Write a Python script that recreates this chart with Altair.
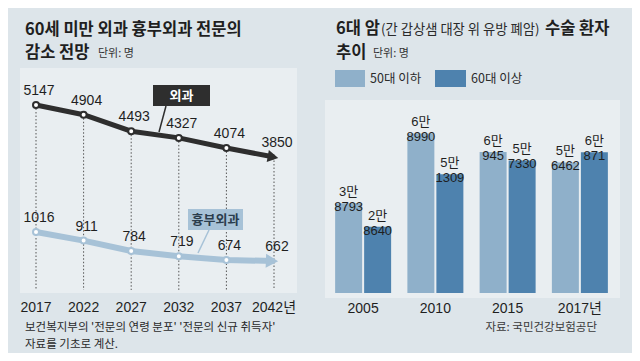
import altair as alt
import pandas as pd

# ---------------- data ----------------
years_l = [2017, 2022, 2027, 2032, 2037, 2042]
surgery = [5147, 4904, 4493, 4327, 4074, 3850]
thoracic = [1016, 911, 784, 719, 674, 662]
year_ticks_l = ["2017", "2022", "2027", "2032", "2037", "2042년"]

years_r = ["2005", "2010", "2015", "2017년"]
under50 = [38793, 68990, 60945, 56462]
over60 = [28640, 51309, 57330, 60871]
groups = ["50대 이하", "60대 이상"]

# ---------------- style ----------------
W, H = 312, 345
BG = "#dde5ea"
PANEL = "#e9eef1"
DARK = "#2e2e2e"
LIGHT = "#a7c2d7"
C1 = "#8fb0ca"
C2 = "#4e82ae"
KR = "Noto Sans CJK KR, sans-serif"
NUM = "Liberation Sans Narrow, Liberation Sans, Noto Sans CJK KR, sans-serif"
TXT = "#1f1f1f"

one = pd.DataFrame({"a": [1]})


def txt(s, x, y, size, weight="normal", color=TXT, align="left", baseline="alphabetic", font=KR):
    return alt.Chart(one).mark_text(
        text=s, fontSize=size, fontWeight=weight, color=color, align=align,
        baseline=baseline, font=font
    ).encode(x=alt.value(x), y=alt.value(y))


def rect(x, x2, y, y2, color):
    return alt.Chart(one).mark_rect(color=color).encode(
        x=alt.value(x), x2=alt.value(x2), y=alt.value(y), y2=alt.value(y2))


def seg(x, y, x2, y2, color, w):
    return alt.Chart(one).mark_rule(color=color, strokeWidth=w).encode(
        x=alt.value(x), y=alt.value(y), x2=alt.value(x2), y2=alt.value(y2))


# ---------------- left panel ----------------
dfl = pd.DataFrame({"year": years_l, "surg": surgery, "thor": thoracic, "tick": year_ticks_l})
base = alt.Chart(dfl)
xl = alt.X("year:Q", scale=alt.Scale(domain=[2017, 2042], range=[28, 266]), axis=None)
ys = alt.Y("surg:Q", scale=alt.Scale(domain=[3850, 5147], range=[149, 97], zero=False, nice=False), axis=None)
yt = alt.Y("thor:Q", scale=alt.Scale(domain=[662, 1016], range=[253, 224], zero=False, nice=False), axis=None)

left_layers = [
    rect(12, 289, 60, 285, PANEL),
    base.mark_rule(color="#555", strokeWidth=1, strokeDash=[1.5, 2]).encode(x=xl, y=ys, y2=alt.value(282)),
    # thoracic
    base.mark_line(color=LIGHT, strokeWidth=6).encode(x=xl, y=yt),
    base.transform_filter("datum.year == 2042").mark_point(
        shape="triangle-right", filled=True, color=LIGHT, opacity=1, size=200, angle=2, xOffset=-2
    ).encode(x=xl, y=yt),
    base.transform_filter("datum.year < 2042").mark_circle(
        size=36, fill="white", stroke=LIGHT, strokeWidth=2, opacity=1
    ).encode(x=xl, y=yt),
    base.mark_text(baseline="bottom", dy=-7, dx=3, fontSize=14, font=NUM, color=TXT).encode(x=xl, y=yt, text="thor:Q"),
    # surgery
    base.mark_line(color=DARK, strokeWidth=5).encode(x=xl, y=ys),
    base.transform_filter("datum.year == 2042").mark_point(
        shape="triangle-right", filled=True, color=DARK, opacity=1, size=150, angle=10, xOffset=-1
    ).encode(x=xl, y=ys),
    base.transform_filter("datum.year < 2042").mark_circle(
        size=36, fill="white", stroke=DARK, strokeWidth=2, opacity=1
    ).encode(x=xl, y=ys),
    base.mark_text(baseline="bottom", dy=-7, dx=3, fontSize=14, font=NUM, color=TXT).encode(x=xl, y=ys, text="surg:Q"),
    # year ticks
    base.mark_text(baseline="middle", fontSize=14, font=NUM, color=TXT).encode(x=xl, y=alt.value(300), text="tick:N"),
    # callouts
    seg(158, 98, 151, 124, DARK, 1.5),
    rect(145, 202, 77, 98, DARK),
    txt("외과", 173.5, 88, 13, "bold", "white", "center", "middle"),
    seg(201, 222, 190, 245, LIGHT, 1.5),
    rect(180, 235, 201, 222, LIGHT),
    txt("흉부외과", 207.5, 212, 13, "bold", "#2b3d4d", "center", "middle"),
    # titles & notes
    txt("60세 미만 외과  흉부외과 전문의", 17, 27, 16.5, "bold"),
    txt("감소 전망", 17, 50, 16.5, "bold"),
    txt("단위: 명", 90, 49, 11, "normal", "#333"),
    txt("보건복지부의 '전문의 연령 분포' '전문의 신규 취득자'", 17, 320, 11.5, "normal", "#2a2a2a", "left", "middle"),
    txt("자료를 기초로 계산.", 17, 337, 11.5, "normal", "#2a2a2a", "left", "middle"),
]
left = alt.layer(*left_layers).resolve_scale(y="independent").properties(width=W, height=H)

# ---------------- right panel ----------------
rows = []
for yr, a, b in zip(years_r, under50, over60):
    rows.append({"year": yr, "group": groups[0], "value": a})
    rows.append({"year": yr, "group": groups[1], "value": b})
dfr = pd.DataFrame(rows)
dfr["label"] = dfr["value"].apply(lambda v: f"{v // 10000}만\n{v % 10000}")
dft = pd.DataFrame({"year": years_r})

xr = alt.X("year:N", sort=years_r,
           scale=alt.Scale(domain=years_r, range=[7, 296], paddingInner=0.225, paddingOuter=0.1125), axis=None)
xo = alt.XOffset("group:N", sort=groups, scale=alt.Scale(domain=groups, paddingInner=0.07, paddingOuter=0))
yr_ = alt.Y("value:Q", scale=alt.Scale(domain=[0, 80000], range=[285, 100], nice=False, zero=True), axis=None)
col = alt.Color("group:N", scale=alt.Scale(domain=groups, range=[C1, C2]), legend=None)

rb = alt.Chart(dfr)
right_layers = [
    rect(5, 300, 92, 290, PANEL),
    rb.mark_bar().encode(x=xr, xOffset=xo, y=yr_, color=col),
    rb.mark_text(baseline="bottom", dy=-4, lineBreak="\n", lineHeight=15, fontSize=13, font=NUM, color=TXT).encode(
        x=xr, xOffset=xo, y=yr_, text="label:N"),
    alt.Chart(dft).mark_text(baseline="middle", fontSize=14, font=NUM, color=TXT).encode(
        x=xr, y=alt.value(301), text="year:N"),
    # legend
    rect(15, 45, 62, 79, C1),
    txt(groups[0], 50, 70.5, 12.5, "normal", "#2a2a2a", "left", "middle"),
    rect(115, 146, 62, 79, C2),
    txt(groups[1], 151, 70.5, 12.5, "normal", "#2a2a2a", "left", "middle"),
    # titles
    txt("6대 암", 16, 26, 16.5, "bold"),
    txt("(간 갑상샘 대장 위 유방 폐암)", 61, 26, 13.3, "normal", "#2a2a2a"),
    txt("수술 환자", 225, 26, 16.5, "bold"),
    txt("추이", 16, 50, 16.5, "bold"),
    txt("단위: 명", 53, 49, 11, "normal", "#333"),
    txt("자료: 국민건강보험공단", 277, 320, 11.5, "normal", "#3a3a3a", "right", "middle"),
]
right = alt.layer(*right_layers).properties(width=W, height=H)

chart = alt.hconcat(left, right, spacing=0).properties(background=BG, padding=0).configure_view(stroke=None)
chart.save("out.html", embed_options={"renderer": "svg", "actions": False})
